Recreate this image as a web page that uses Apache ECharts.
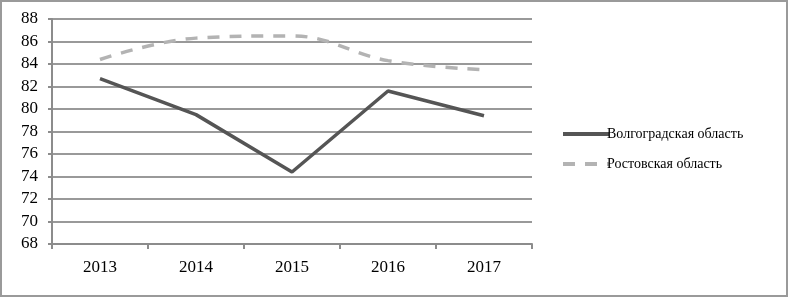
<!DOCTYPE html>
<html>
<head>
<meta charset="utf-8">
<script src="https://cdn.jsdelivr.net/npm/echarts@6/dist/echarts.min.js"></script>
<style>
  html, body { margin: 0; padding: 0; background: #fff; }
  #main { width: 789px; height: 298px; }
</style>
</head>
<body>
<div id="main"></div>
<script>
var years = ['2013', '2014', '2015', '2016', '2017'];
var volgograd = [82.7, 79.5, 74.4, 81.6, 79.4];
var rostov = [84.4, 86.3, 86.5, 84.3, 83.5];
var seriesNames = ['Волгоградская область', 'Ростовская область'];

var chartDom = document.getElementById('main');
var myChart = echarts.init(chartDom);
var font = '"Liberation Serif", "Times New Roman", serif';

var option = {
  animation: false,
  textStyle: { fontFamily: font },
  graphic: [{
    type: 'rect',
    shape: { x: 1, y: 1, width: 786, height: 295 },
    style: { fill: 'none', stroke: '#9a9a9a', lineWidth: 2 }
  }],
  grid: { left: 52, right: 257, top: 19, bottom: 54 },
  legend: {
    orient: 'vertical',
    left: 556,
    top: 122,
    itemWidth: 46,
    itemHeight: 14,
    itemGap: 16,
    itemStyle: { opacity: 0 },
    lineStyle: { width: 4 },
    textStyle: { fontFamily: font, fontSize: 14, color: '#000', padding: [0, 0, 0, -7] },
    data: seriesNames
  },
  xAxis: {
    type: 'category',
    data: years,
    boundaryGap: true,
    axisLine: { lineStyle: { color: '#8c8c8c', width: 2 } },
    axisTick: { show: true, length: 5, lineStyle: { color: '#8c8c8c', width: 2 } },
    axisLabel: { fontFamily: font, fontSize: 17, color: '#000', margin: 15 }
  },
  yAxis: {
    type: 'value',
    min: 68,
    max: 88,
    interval: 2,
    axisLine: { show: true, lineStyle: { color: '#8c8c8c', width: 2 } },
    axisTick: { show: true, length: 4, lineStyle: { color: '#8c8c8c', width: 2 } },
    axisLabel: { fontFamily: font, fontSize: 17, color: '#000', margin: 14 },
    splitLine: { lineStyle: { color: '#999', width: 2 } }
  },
  series: [
    {
      name: seriesNames[0],
      type: 'line',
      data: volgograd,
      symbol: 'none',
      lineStyle: { color: '#555', width: 3.5 },
      itemStyle: { color: '#555' }
    },
    {
      name: seriesNames[1],
      type: 'line',
      data: rostov,
      symbol: 'none',
      smooth: 0.4,
      lineStyle: { color: '#b3b3b3', width: 3.5, type: [12, 10] },
      itemStyle: { color: '#b3b3b3' }
    }
  ]
};

option && myChart.setOption(option);
</script>
</body>
</html>
